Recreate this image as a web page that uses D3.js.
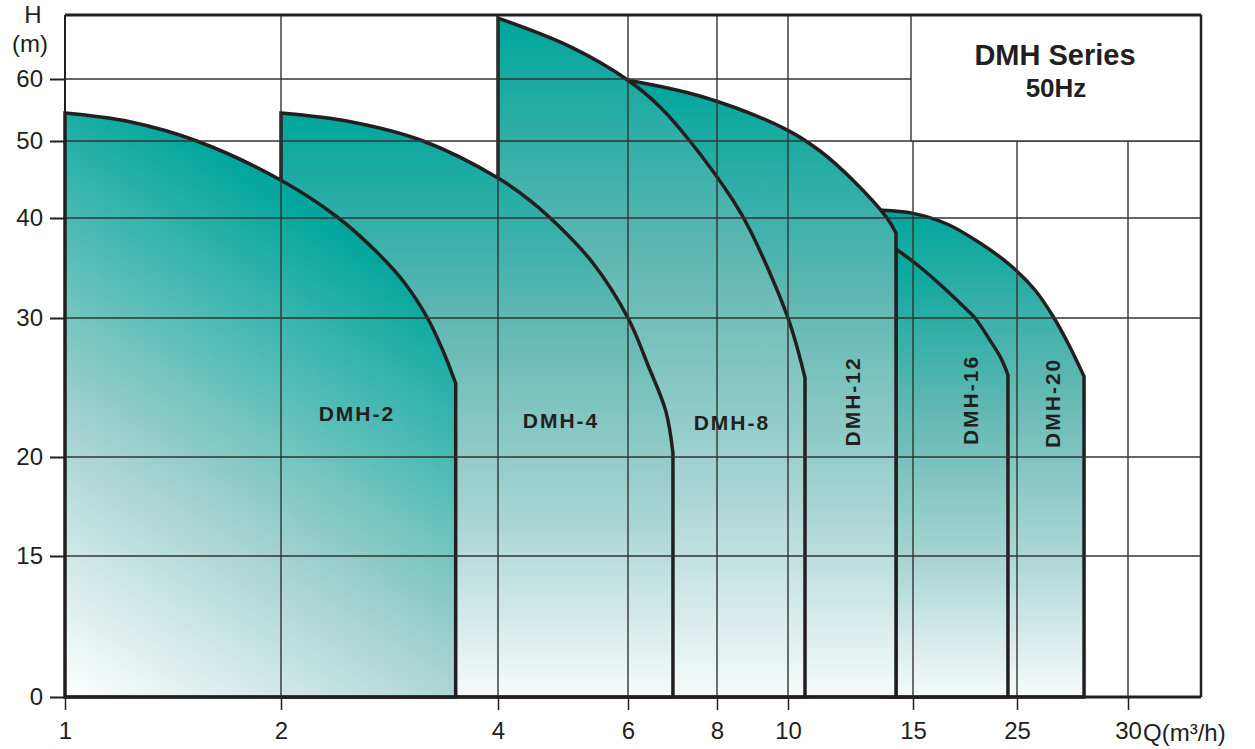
<!DOCTYPE html>
<html>
<head>
<meta charset="utf-8">
<script src="https://cdn.jsdelivr.net/npm/d3@7"></script>
<style>
body { margin: 0; background: #fff; }
text { font-family: "Liberation Sans", Arial, sans-serif; fill: #231f20; }
</style>
</head>
<body>
<script>
// axis ticks (the original axes are not uniform, so scales are piecewise)
var qTicks = [1, 2, 4, 6, 8, 10, 15, 25, 30]
var hTicks = [0, 15, 20, 30, 40, 50, 60]
var qMax = 33.3, hMax = 70.3

// pump curves, [Q m3/h, H m]
var dmh2 = [[1, 54.5], [1.3, 53.1], [1.61, 50], [2, 44.9], [2.53, 40], [2.91, 36.3], [3.14, 33.5], [3.35, 30], [3.49, 27.7], [3.61, 25.3]]
var dmh4 = [[2, 54.5], [2.64, 53.1], [3.31, 50], [4, 45.2], [4.49, 42.3], [4.95, 39.1], [5.46, 35.5], [6, 30], [6.45, 26.6], [6.85, 23.3], [7.01, 20.3]]
var dmh8 = [[4, 69.8], [5.11, 65.2], [6, 59.8], [6.72, 55.5], [7.39, 50], [8.45, 42.3], [8.93, 38.8], [10, 30], [10.68, 25.7]]
var dmh12 = [[6, 59.8], [7.69, 57.1], [9.97, 51.8], [11.28, 48.7], [12.6, 44.9], [13.96, 40], [14.32, 38.5]]
var dmh16 = [[14.32, 36.9], [15.67, 35.1], [18.08, 32.9], [19.71, 31.3], [20.96, 30], [22.4, 28.4], [23.46, 27.1], [24.13, 25.9]]
var dmh20 = [[13.76, 41.0], [15, 40.6], [18.27, 39.4], [21.44, 37.5], [24.33, 35.3], [25.81, 32.8], [26.67, 30], [27.39, 27.9], [28.02, 25.8]]

var models = ['DMH-20', 'DMH-16', 'DMH-12', 'DMH-8', 'DMH-4', 'DMH-2']
var curves = [dmh20, dmh16, dmh12, dmh8, dmh4, dmh2]
// where each model name sits, [Q, H], and whether it is written upright
var labelAt = [[26.6, 23.9], [20.5, 24.1], [12.6, 24.0], [8.42, 22.5], [4.97, 22.6], [2.7, 23.1]]
var labelUp = [true, true, true, false, false, false]

var width = 1255, height = 749
var pLeft = 65, pRight = 1201, pTop = 15, pBottom = 697

var x = d3.scaleLinear()
	.domain(qTicks.concat([qMax]))
	.range([pLeft, 281, 498, 628, 717, 788, 913, 1017, 1128, pRight])

var y = d3.scaleLinear()
	.domain(hTicks.concat([hMax]))
	.range([pBottom, 556, 457, 318, 218, 141, 79, pTop])

var svg = d3.select('body').append('svg').attr('width', width).attr('height', height)
var defs = svg.append('defs')

// diagonal fade for the first model, vertical for the rest
var g0 = defs.append('linearGradient').attr('id', 'diag')
	.attr('gradientUnits', 'userSpaceOnUse')
	.attr('x1', x(1)).attr('y1', y(0)).attr('x2', x(2.7)).attr('y2', y(38))
g0.append('stop').attr('offset', 0).attr('stop-color', '#ffffff')
g0.append('stop').attr('offset', 0.45).attr('stop-color', '#9fd0cd')
g0.append('stop').attr('offset', 1).attr('stop-color', '#00a69c')

var g1 = defs.append('linearGradient').attr('id', 'vert')
	.attr('x1', 0).attr('y1', 0).attr('x2', 0).attr('y2', 1)
g1.append('stop').attr('offset', 0).attr('stop-color', '#00a69c')
g1.append('stop').attr('offset', 0.35).attr('stop-color', '#5fb7b2')
g1.append('stop').attr('offset', 0.7).attr('stop-color', '#a9d5d3')
g1.append('stop').attr('offset', 1).attr('stop-color', '#f7fbfb')

var area = d3.area()
	.x((d) => { return x(d[0]); })
	.y0(y(0))
	.y1((d) => { return y(d[1]); })
	.curve(d3.curveCatmullRom.alpha(0.5))

svg.append('g').selectAll('path')
	.data(curves)
	.enter().append('path')
	.attr('d', area)
	.attr('fill', (d, i) => { return models[i] === 'DMH-2' ? 'url(#diag)' : 'url(#vert)'; })
	.attr('stroke', '#231f20')
	.attr('stroke-width', 3.5)
	.attr('stroke-linejoin', 'miter')

// grid
var grid = svg.append('g').attr('stroke', '#333').attr('stroke-width', 1.4)
grid.selectAll('.h').data(hTicks.slice(1)).enter().append('line')
	.attr('x1', pLeft).attr('x2', pRight)
	.attr('y1', (d) => { return y(d); }).attr('y2', (d) => { return y(d); })
grid.selectAll('.v').data(qTicks.slice(1)).enter().append('line')
	.attr('x1', (d) => { return x(d); }).attr('x2', (d) => { return x(d); })
	.attr('y1', pBottom).attr('y2', pTop)

// title box
svg.append('rect')
	.attr('x', x(15) - 2).attr('y', pTop)
	.attr('width', pRight - x(15) + 2).attr('height', y(50) - pTop)
	.attr('fill', '#fff').attr('stroke', '#333').attr('stroke-width', 1.4)
svg.append('text').attr('x', 1055).attr('y', 65)
	.attr('text-anchor', 'middle').attr('font-size', 29).attr('font-weight', 'bold')
	.text('DMH Series')
svg.append('text').attr('x', 1056).attr('y', 97)
	.attr('text-anchor', 'middle').attr('font-size', 26).attr('font-weight', 'bold')
	.text('50Hz')

// frame
var frame = svg.append('g').attr('stroke', '#231f20').attr('fill', 'none')
frame.append('line').attr('x1', pLeft).attr('x2', pRight).attr('y1', pTop).attr('y2', pTop).attr('stroke-width', 3)
frame.append('line').attr('x1', pRight).attr('x2', pRight).attr('y1', pTop).attr('y2', pBottom).attr('stroke-width', 2.5)
frame.append('line').attr('x1', pLeft).attr('x2', pLeft).attr('y1', pTop).attr('y2', pBottom).attr('stroke-width', 2)
frame.append('line').attr('x1', pLeft).attr('x2', pRight).attr('y1', pBottom).attr('y2', pBottom).attr('stroke-width', 3)

// axes
var yAxis = d3.axisLeft(y).tickValues(hTicks).tickSize(15).tickPadding(7)
var xAxis = d3.axisBottom(x).tickValues(qTicks).tickSize(13).tickPadding(12)

var ya = svg.append('g').attr('transform', 'translate(' + pLeft + ',0)').call(yAxis)
var xa = svg.append('g').attr('transform', 'translate(0,' + pBottom + ')').call(xAxis)
svg.selectAll('.domain').remove()
svg.selectAll('.tick line').attr('stroke', '#231f20').attr('stroke-width', 2)
svg.selectAll('.tick text').attr('font-size', 24).attr('fill', '#231f20')
	.attr('font-family', '"Liberation Sans", Arial, sans-serif')
xa.selectAll('.tick line').attr('stroke-width', 1.5)

svg.append('text').attr('x', 33).attr('y', 23).attr('text-anchor', 'middle').attr('font-size', 24).text('H')
svg.append('text').attr('x', 30).attr('y', 52).attr('text-anchor', 'middle').attr('font-size', 24).text('(m)')
svg.append('text').attr('x', 1143).attr('y', 741).attr('font-size', 24).text('Q(m³/h)')

// model names
svg.append('g').selectAll('text')
	.data(models)
	.enter().append('text')
	.attr('transform', (d, i) => {
		var p = labelAt[i]
		return 'translate(' + x(p[0]) + ',' + y(p[1]) + ')' + (labelUp[i] ? ' rotate(-90)' : '')
	})
	.attr('dy', '0.35em')
	.attr('text-anchor', 'middle')
	.attr('font-size', 21)
	.attr('font-weight', 'bold')
	.attr('letter-spacing', 2)
	.text((d) => { return d; })
</script>
</body>
</html>
